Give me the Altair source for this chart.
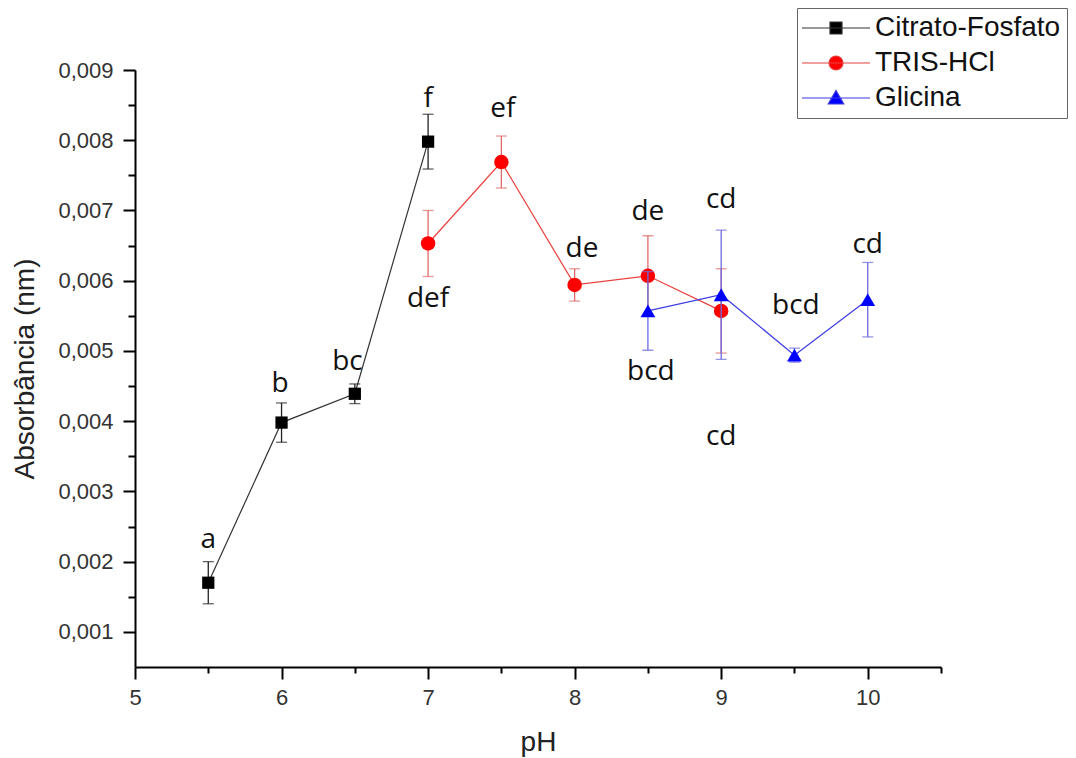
import altair as alt
import pandas as pd

# ---------------- data ----------------
series_names = ["Citrato-Fosfato", "TRIS-HCl", "Glicina"]

ph_citrato = [5.5, 6.0, 6.5, 7.0]
abs_citrato = [0.00170, 0.00398, 0.00439, 0.00798]
err_citrato = [0.00030, 0.00028, 0.00014, 0.00039]

ph_tris = [7.0, 7.5, 8.0, 8.5, 9.0]
abs_tris = [0.00653, 0.00769, 0.00594, 0.00607, 0.00557]
err_tris = [0.00047, 0.00037, 0.00023, 0.00057, 0.00060]

ph_glicina = [8.5, 9.0, 9.5, 10.0]
abs_glicina = [0.00557, 0.00580, 0.00494, 0.00573]
err_glicina = [0.00056, 0.00092, 0.00010, 0.00053]

label_text = ["a", "b", "bc", "f", "ef", "def", "de", "de", "cd", "bcd", "bcd", "cd", "cd"]
label_ph = [5.5, 5.99, 6.45, 7.0, 7.51, 7.0, 8.05, 8.5, 9.0, 8.52, 9.51, 10.0, 9.0]
label_abs = [0.00237, 0.00459, 0.00490, 0.00864, 0.00850, 0.00579, 0.00651,
             0.00704, 0.00721, 0.00476, 0.00569, 0.00657, 0.00383]

x_ticks = [5.0, 5.5, 6.0, 6.5, 7.0, 7.5, 8.0, 8.5, 9.0, 9.5, 10.0, 10.5]
y_ticks = [0.001, 0.0015, 0.002, 0.0025, 0.003, 0.0035, 0.004, 0.0045,
           0.005, 0.0055, 0.006, 0.0065, 0.007, 0.0075, 0.008, 0.0085, 0.009]

# ---------------- styles ----------------
marker_colors = ["#000000", "#ff0000", "#0000ff"]
line_colors = ["#333333", "#e8403c", "#3c3ce0"]
err_colors = ["#222222", "#e06a6a", "#6a6ae0"]
marker_shapes = ["square", "circle", "triangle-up"]
marker_sizes = [150, 210, 220]
legend_paths = [
    "M-6.8,0H6.8M-1.2,-1.2H1.2V1.2H-1.2Z",
    "M-6.8,0H6.8M-1.4,0A1.4,1.4 0 1,0 1.4,0A1.4,1.4 0 1,0 -1.4,0Z",
    "M-6.8,0H6.8M0,-1.5L1.55,1.2H-1.55Z",
]

rows = []
for name, phs, vals, errs in [
    (series_names[0], ph_citrato, abs_citrato, err_citrato),
    (series_names[1], ph_tris, abs_tris, err_tris),
    (series_names[2], ph_glicina, abs_glicina, err_glicina),
]:
    for p, v, e in zip(phs, vals, errs):
        rows.append({"series": name, "ph": p, "abs": v, "err": e})
df = pd.DataFrame(rows)
df["lo"] = df["abs"] - df["err"]
df["hi"] = df["abs"] + df["err"]

labels_df = pd.DataFrame({"ph": label_ph, "abs": label_abs, "label": label_text})

# ---------------- scales / axes ----------------
xscale = alt.Scale(domain=[5, 10.5], nice=False, zero=False)
yscale = alt.Scale(domain=[0.0005, 0.009], nice=False, zero=False)

xaxis = alt.Axis(
    title="pH",
    values=x_ticks,
    labelExpr="datum.value % 1 === 0 ? format(datum.value, 'd') : ''",
    tickSize={"condition": {"test": "datum.value % 1 === 0", "value": 12}, "value": 6},
    grid=False,
    labelFlush=False,
    labelPadding=8,
    titlePadding=20,
)
yaxis = alt.Axis(
    title="Absorbância (nm)",
    values=y_ticks,
    labelExpr="round(datum.value * 2000) % 2 === 0 ? replace(format(datum.value, '.3f'), '.', ',') : ''",
    tickSize={"condition": {"test": "round(datum.value * 2000) % 2 === 0", "value": 12}, "value": 7},
    grid=False,
    labelFlush=False,
    labelPadding=10,
    titlePadding=18,
)

x_enc = alt.X("ph:Q", scale=xscale, axis=xaxis)

layers = []
for i, name in enumerate(series_names):
    base = alt.Chart(df).transform_filter(alt.datum.series == name)
    rule = base.mark_rule(color=err_colors[i], strokeWidth=1.3).encode(
        x=x_enc,
        y=alt.Y("lo:Q", scale=yscale, axis=yaxis),
        y2="hi:Q",
    )
    cap_lo = base.mark_tick(orient="horizontal", size=11, thickness=1.3, color=err_colors[i]).encode(
        x=x_enc, y=alt.Y("lo:Q", scale=yscale, axis=yaxis)
    )
    cap_hi = base.mark_tick(orient="horizontal", size=11, thickness=1.3, color=err_colors[i]).encode(
        x=x_enc, y=alt.Y("hi:Q", scale=yscale, axis=yaxis)
    )
    line = base.mark_line(color=line_colors[i], strokeWidth=1.2).encode(
        x=x_enc, y=alt.Y("abs:Q", scale=yscale, axis=yaxis)
    )
    pts = base.mark_point(
        shape=marker_shapes[i], size=marker_sizes[i], filled=True,
        color=marker_colors[i], opacity=1,
    ).encode(x=x_enc, y=alt.Y("abs:Q", scale=yscale, axis=yaxis))
    layers += [rule, cap_lo, cap_hi, line, pts]

letters = alt.Chart(labels_df).mark_text(
    font="Open Sans", fontSize=28, color="#111111", baseline="middle", align="center", dy=4
).encode(
    x=x_enc, y=alt.Y("abs:Q", scale=yscale, axis=yaxis), text="label:N"
)
layers.append(letters)

legend_def = alt.Legend(
    title=None,
    orient="none",
    legendX=662,
    legendY=-62,
    labelFont="Liberation Sans",
    labelFontSize=28,
    labelColor="#111111",
    labelLimit=0,
    symbolSize=100,
    symbolStrokeWidth=1.2,
    symbolOffset=19,
    labelOffset=25,
    rowPadding=7,
    padding=6,
    strokeColor="#666666",
    fillColor="#ffffff",
)
legend_layer = alt.Chart(df).transform_filter("false").mark_point(
    filled=True, size=100, opacity=1, strokeWidth=1.2
).encode(
    x=x_enc,
    y=alt.Y("abs:Q", scale=yscale, axis=yaxis),
    shape=alt.Shape("series:N", scale=alt.Scale(domain=series_names, range=legend_paths), legend=legend_def),
    fill=alt.Fill("series:N", scale=alt.Scale(domain=series_names, range=marker_colors), legend=legend_def),
    stroke=alt.Stroke("series:N", scale=alt.Scale(domain=series_names, range=line_colors), legend=legend_def),
)
layers.append(legend_layer)

chart = alt.layer(*layers).properties(
    width=806,
    height=597,
    autosize=alt.AutoSizeParams(type="none"),
    padding={"left": 135, "top": 70, "right": 135, "bottom": 91},
    background="white",
).configure_view(stroke=None).configure_axis(
    domainColor="#000000",
    domainWidth=2,
    tickColor="#000000",
    tickWidth=2,
    labelFont="Liberation Sans",
    labelFontSize=22,
    labelColor="#333333",
    titleFont="Liberation Sans",
    titleFontSize=28,
    titleFontWeight="normal",
    titleColor="#222222",
)

chart.save("out.html", embed_options={"renderer": "svg", "actions": False})
